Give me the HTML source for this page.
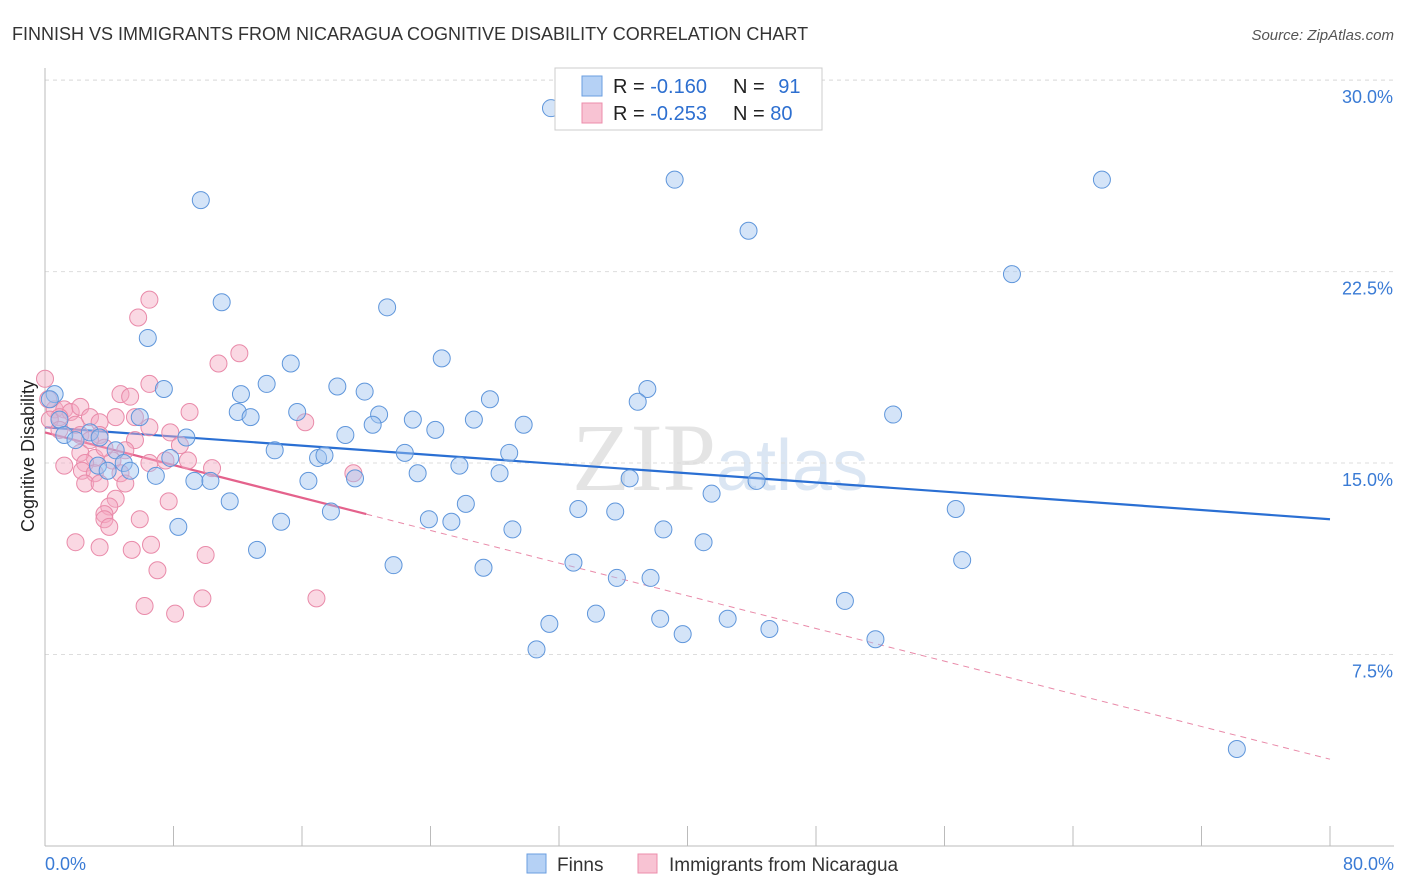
<!DOCTYPE html>
<html><head><meta charset="utf-8">
<style>
body{margin:0;background:#fff;font-family:"Liberation Sans",sans-serif;}
#wrap{position:relative;width:1406px;height:892px;overflow:hidden;}
</style></head>
<body>
<div id="wrap">
<svg id="chart" width="1406" height="892" xmlns="http://www.w3.org/2000/svg">
  <text x="12" y="40" font-size="18" fill="#333">FINNISH VS IMMIGRANTS FROM NICARAGUA COGNITIVE DISABILITY CORRELATION CHART</text>
  <text x="1394" y="40" font-size="15" fill="#555" font-style="italic" text-anchor="end">Source: ZipAtlas.com</text>
  <text x="720" y="490" font-size="96" fill="#e4e4e4" text-anchor="middle" font-family="Liberation Serif,serif">ZIP<tspan fill="#dbe6f3" font-family="Liberation Sans,sans-serif" font-size="72">atlas</tspan></text>
  <g id="grid"></g>
  <g id="axes"></g>
  <g id="trend"></g>
  <g id="pts"></g>
  <text transform="translate(34,456) rotate(-90)" font-size="18" fill="#222" text-anchor="middle">Cognitive Disability</text>
  <g>
    <rect x="555" y="68" width="267" height="62" fill="#fff" stroke="#ccc"/>
    <rect x="582" y="76" width="20" height="20" fill="#b5d1f5" stroke="#6a9ee0"/>
    <rect x="582" y="103" width="20" height="20" fill="#f8c3d3" stroke="#ec8cab"/>
    <text x="613" y="93" font-size="20" fill="#222">R = <tspan fill="#2d6fd0">-0.160</tspan></text>
    <text x="733" y="93" font-size="20" fill="#222">N = <tspan fill="#2d6fd0" dx="8">91</tspan></text>
    <text x="613" y="120" font-size="20" fill="#222">R = <tspan fill="#2d6fd0">-0.253</tspan></text>
    <text x="733" y="120" font-size="20" fill="#222">N = <tspan fill="#2d6fd0">80</tspan></text>
  </g>
  <g>
    <rect x="527" y="854" width="19" height="19" fill="#b5d1f5" stroke="#6a9ee0"/>
    <text x="557" y="871" font-size="19" fill="#333">Finns</text>
    <rect x="638" y="854" width="19" height="19" fill="#f8c3d3" stroke="#ec8cab"/>
    <text x="669" y="871" font-size="19" fill="#333">Immigrants from Nicaragua</text>
  </g>
</svg>
</div>
<script>
const finnsX=[31.5,39.2,65.8,9.7,43.8,60.2,11.0,21.3,6.4,15.3,24.7,13.8,18.2,19.9,12.2,7.4,37.5,36.9,27.7,52.8,12.0,15.7,12.8,5.9,20.8,22.9,26.7,29.8,20.4,24.3,18.7,8.8,0.6,0.9,1.2,1.9,2.8,3.4,4.4,14.3,22.4,28.9,17.0,17.4,7.8,25.8,4.9,3.3,3.9,5.3,6.9,23.2,28.3,19.3,9.3,10.3,16.4,36.4,44.3,41.5,26.2,11.5,33.2,35.5,56.7,17.8,23.9,25.3,14.7,8.3,29.1,38.5,41.0,13.2,32.9,57.1,21.7,27.3,35.6,37.7,49.8,34.3,31.4,38.3,42.5,39.7,45.1,51.7,30.6,74.2,0.3];
const finnsY=[28.9,26.1,26.1,25.3,24.1,22.4,21.3,21.1,19.9,18.9,19.1,18.1,18.0,17.8,17.7,17.9,17.9,17.4,17.5,16.9,17.0,17.0,16.8,16.8,16.9,16.7,16.7,16.5,16.5,16.3,16.1,16.0,17.7,16.7,16.1,15.9,16.2,16.0,15.5,15.5,15.4,15.4,15.2,15.3,15.2,14.9,15.0,14.9,14.7,14.7,14.5,14.6,14.6,14.4,14.3,14.3,14.3,14.4,14.3,13.8,13.4,13.5,13.2,13.1,13.2,13.1,12.8,12.7,12.7,12.5,12.4,12.4,11.9,11.6,11.1,11.2,11.0,10.9,10.5,10.5,9.6,9.1,8.7,8.9,8.9,8.3,8.5,8.1,7.7,3.8,17.5];
const nicX=[6.5,5.8,12.1,10.8,6.5,4.7,5.3,0,0.2,0.6,1.2,1.6,2.2,0.9,0.3,1.9,2.8,3.4,4.4,9.0,5.6,16.2,6.5,7.8,0.9,2.2,3.4,5.6,8.4,5.0,3.1,2.2,2.5,4.2,6.5,7.5,8.9,10.4,19.2,2.3,3.1,4.7,2.5,3.4,5.0,4.4,7.7,4.0,3.7,3.7,5.9,4.0,1.9,3.4,6.6,5.4,10.0,7.0,9.8,6.2,8.1,16.9,1.2,2.8,3.7];
const nicY=[21.4,20.7,19.3,18.9,18.1,17.7,17.6,18.3,17.5,17.1,17.1,17.0,17.2,16.8,16.7,16.5,16.8,16.6,16.8,17.0,16.8,16.6,16.4,16.2,16.3,16.1,16.1,15.9,15.7,15.5,15.2,15.4,15.0,15.1,15.0,15.1,15.1,14.8,14.6,14.7,14.6,14.6,14.2,14.2,14.2,13.6,13.5,13.3,13.0,12.8,12.8,12.5,11.9,11.7,11.8,11.6,11.4,10.8,9.7,9.4,9.1,9.7,14.9,15.9,15.6];
const yTicks=[7.5,15.0,22.5,30.0];
const xTickLabels=["0.0%","80.0%"];
const finnsTrend=[16.4,12.8];
const nicTrend=[16.2,3.4];
const nicSolidEnd=20;

const NS="http://www.w3.org/2000/svg";
const X0=45,X1=1330,Y0=846,PPY=25.53;
const sx=v=>X0+(v/80)*(X1-X0);
const sy=v=>Y0-v*PPY;
function mk(tag,attrs,parent){const e=document.createElementNS(NS,tag);for(const k in attrs)e.setAttribute(k,attrs[k]);parent.appendChild(e);return e;}
const grid=document.getElementById('grid'),axes=document.getElementById('axes'),trend=document.getElementById('trend'),pts=document.getElementById('pts');
yTicks.forEach(t=>{
  const l=mk('line',{x1:X0,x2:1394,y1:sy(t),y2:sy(t),stroke:'#ddd','stroke-dasharray':'4,4'},grid);
  
  
  const tx=mk('text',{x:1393,y:sy(t)+23,'font-size':18,fill:'#3a7bd5','text-anchor':'end'},grid);
  tx.textContent=t.toFixed(1)+'%';
  
  
});
const gtop=mk('line',{x1:X0,x2:1394,y1:sy(30)-0,y2:sy(30),stroke:'#ddd','stroke-dasharray':'4,4'},grid);


const ya=mk('line',{x1:X0,x2:X0,y1:68,y2:Y0,stroke:'#bbb'},axes);


const xa=mk('line',{x1:X0,x2:1394,y1:Y0,y2:Y0,stroke:'#bbb'},axes);


for(let i=0;i<=10;i++){
  const t=mk('line',{x1:sx(i*8),x2:sx(i*8),y1:Y0-20,y2:Y0,stroke:'#bbb'},axes);
  
  
}
const xl0=mk('text',{x:45,y:870,'font-size':18,fill:'#3a7bd5'},axes);
xl0.textContent=xTickLabels[0];


const xl1=mk('text',{x:1394,y:870,'font-size':18,fill:'#3a7bd5','text-anchor':'end'},axes);
xl1.textContent=xTickLabels[1];



nicX.forEach((x,i)=>{
  const c=mk('circle',{cx:sx(x),cy:sy(nicY[i]),r:8.5,fill:'rgba(244,168,192,0.45)',stroke:'#e98aa9','stroke-width':1},pts);
  
  
});
finnsX.forEach((x,i)=>{
  const c=mk('circle',{cx:sx(x),cy:sy(finnsY[i]),r:8.5,fill:'rgba(160,195,240,0.45)',stroke:'#5f96db','stroke-width':1},pts);
  
  
});
const bt=mk('line',{x1:sx(0),y1:sy(finnsTrend[0]),x2:sx(80),y2:sy(finnsTrend[1]),stroke:'#2a6fd3','stroke-width':2.2},trend);


const nAt=x=>nicTrend[0]+(nicTrend[1]-nicTrend[0])*x/80;
const pt=mk('line',{x1:sx(0),y1:sy(nAt(0)),x2:sx(nicSolidEnd),y2:sy(nAt(nicSolidEnd)),stroke:'#e4628c','stroke-width':2.2},trend);


const pd=mk('line',{x1:sx(nicSolidEnd),y1:sy(nAt(nicSolidEnd)),x2:sx(80),y2:sy(nAt(80)),stroke:'#e98aa9','stroke-width':1,'stroke-dasharray':'6,5'},trend);


</script>
</body></html>
